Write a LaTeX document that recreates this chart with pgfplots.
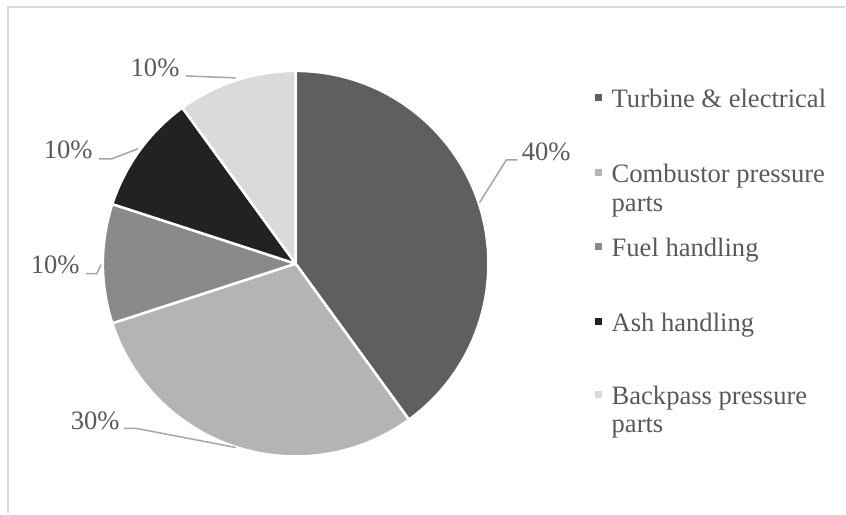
\documentclass[border=0pt]{standalone}
\usepackage{pgfplots}
\pgfplotsset{compat=1.18}
\usepackage{fontspec}
\setmainfont{Liberation Serif}

\definecolor{cTurb}{HTML}{5F5F5F}
\definecolor{cComb}{HTML}{B4B4B4}
\definecolor{cFuel}{HTML}{8A8A8A}
\definecolor{cAsh}{HTML}{222222}
\definecolor{cBack}{HTML}{DADADA}
\definecolor{txt}{HTML}{595959}
\definecolor{lead}{HTML}{A6A6A6}
\definecolor{framec}{HTML}{D9D9D9}

\begin{document}
\begin{tikzpicture}
\begin{axis}[
    width=423pt, height=257pt, scale only axis,
    hide axis, clip=false,
    xmin=0, xmax=846, ymin=0, ymax=514,
  ]
  % keep the full canvas as bounding box
  \path (axis cs:0,0) rectangle (axis cs:846,514);
  % frame (only top and left edges visible)
  \draw[framec, line width=1pt] (axis cs:8,0) -- (axis cs:8,507) -- (axis cs:846,507);

  % pie slices: share in percent / colour, clockwise from 12 o'clock
  \gdef\cum{90}
  \foreach \v/\c in {40/cTurb,30/cComb,10/cFuel,10/cAsh,10/cBack}{
    \pgfmathsetmacro\e{\cum-3.6*\v}
    \edef\slice{\noexpand\filldraw[fill=\c,draw=white,line width=1.25pt,line join=round]
      (axis cs:296,250) -- ++(\cum:96.5pt) arc[start angle=\cum,end angle=\e,radius=96.5pt] -- cycle;}
    \slice
    \xdef\cum{\e}
  }

  % leader lines
  \begin{scope}[lead, line width=0.75pt]
    \draw (axis cs:480,311) -- (axis cs:507,354) -- (axis cs:518,354);
    \draw (axis cs:124,85) -- (axis cs:137,85) -- (axis cs:236,66);
    \draw (axis cs:86,240) -- (axis cs:97,240) -- (axis cs:101,249);
    \draw (axis cs:99,355) -- (axis cs:112,355) -- (axis cs:138,365);
    \draw (axis cs:186,438) -- (axis cs:236,436);
  \end{scope}

  % data labels
  \begin{scope}[every node/.style={txt, inner sep=0pt, font=\fontsize{13.3}{16}\selectfont}]
    \node[anchor=base west] at (axis cs:522,353) {40\%};
    \node[anchor=base east] at (axis cs:120,84) {30\%};
    \node[anchor=base east] at (axis cs:80,240) {10\%};
    \node[anchor=base east] at (axis cs:93,355) {10\%};
    \node[anchor=base east] at (axis cs:180,437) {10\%};

    % legend
    \fill[cTurb] (axis cs:596,419.5) rectangle (axis cs:603,412.5);
    \node[anchor=base west] at (axis cs:612,406) {Turbine \& electrical};
    \fill[cComb] (axis cs:596,344.5) rectangle (axis cs:603,337.5);
    \node[anchor=base west] at (axis cs:612,331) {Combustor pressure};
    \node[anchor=base west] at (axis cs:612,302) {parts};
    \fill[cFuel] (axis cs:596,270.5) rectangle (axis cs:603,263.5);
    \node[anchor=base west] at (axis cs:612,257) {Fuel handling};
    \fill[cAsh] (axis cs:596,195.5) rectangle (axis cs:603,188.5);
    \node[anchor=base west] at (axis cs:612,182) {Ash handling};
    \fill[cBack] (axis cs:596,122.5) rectangle (axis cs:603,115.5);
    \node[anchor=base west] at (axis cs:612,109) {Backpass pressure};
    \node[anchor=base west] at (axis cs:612,81) {parts};
  \end{scope}
\end{axis}
\end{tikzpicture}
\end{document}
